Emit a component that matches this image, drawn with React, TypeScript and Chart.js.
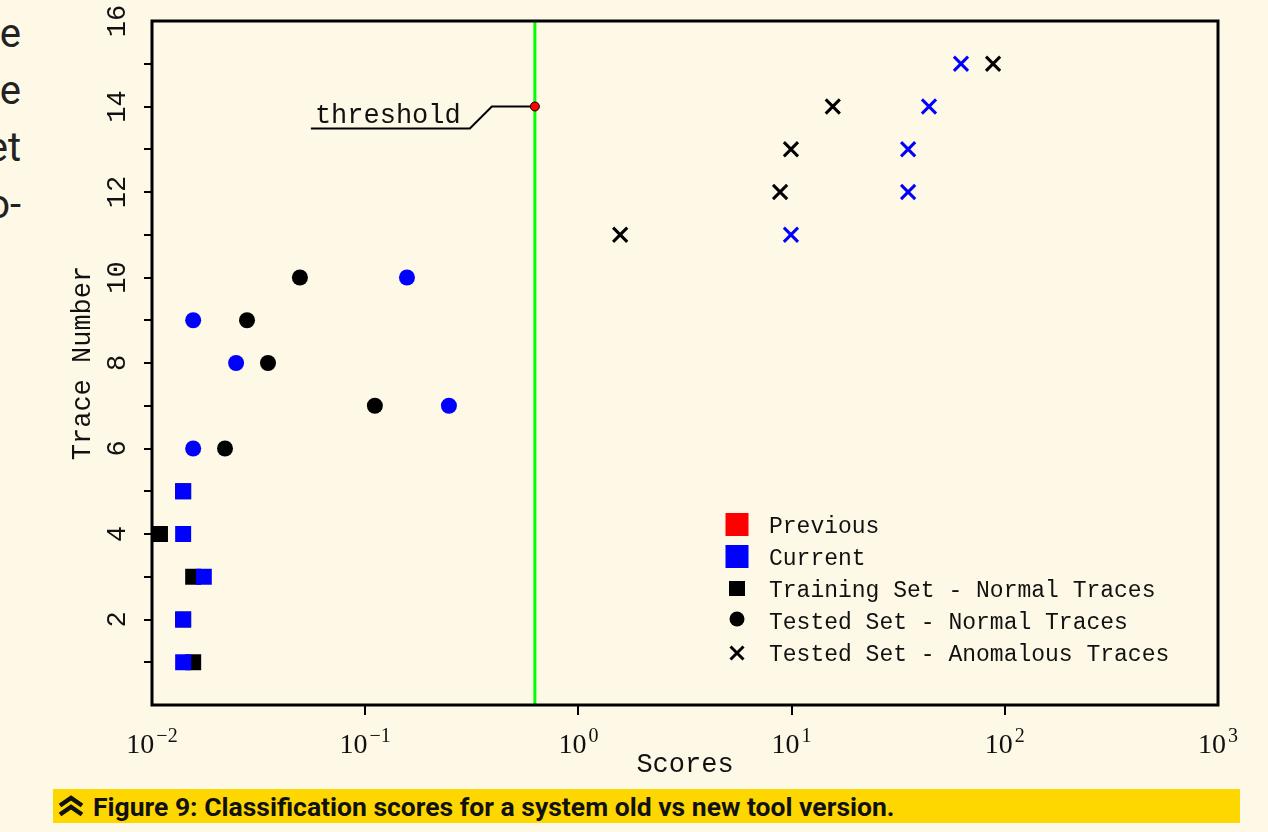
import React, { useEffect, useRef } from "react";
import { Chart, registerables } from "chart.js";

Chart.register(...registerables);

// ---------- data ----------
const trainPrevTrace = [1, 2, 3, 4, 5];
const trainPrevScore = [0.0156, 0.014, 0.0156, 0.0109, 0.014];
const trainCurTrace = [1, 2, 3, 4, 5];
const trainCurScore = [0.014, 0.014, 0.0175, 0.014, 0.014];

const testNormPrevTrace = [6, 7, 8, 9, 10];
const testNormPrevScore = [0.022, 0.111, 0.035, 0.0279, 0.0494];
const testNormCurTrace = [6, 7, 8, 9, 10];
const testNormCurScore = [0.0156, 0.247, 0.0248, 0.0156, 0.157];

const testAnomPrevTrace = [11, 12, 13, 14, 15];
const testAnomPrevScore = [1.57, 8.83, 9.93, 15.6, 88.1];
const testAnomCurTrace = [11, 12, 13, 14, 15];
const testAnomCurScore = [9.93, 35.2, 35.2, 44.1, 62.3];

const thresholdScore = 0.625;
const thresholdTrace = 14;
const thresholdLabel = "threshold";

const xTickValues = [0.01, 0.1, 1, 10, 100, 1000];
const yTickValues = [0, 1, 2, 3, 4, 5, 6, 7, 8, 9, 10, 11, 12, 13, 14, 15, 16];
const xTitle = "Scores";
const yTitle = "Trace Number";

const legendLabels = [
  "Previous",
  "Current",
  "Training Set - Normal Traces",
  "Tested Set - Normal Traces",
  "Tested Set - Anomalous Traces",
];

const caption = "Figure 9: Classification scores for a system old vs new tool version.";
const sideFragments = ["e", "e", "et", "o-"];

// ---------- helpers ----------
const toPts = (xs: number[], ys: number[]) => xs.map((x, i) => ({ x, y: ys[i] }));

const MONO = "'Liberation Mono', 'DejaVu Sans Mono', monospace";
const SERIF = "'Liberation Serif', 'DejaVu Serif', serif";
const BG = "#fef9e7";

const framePlugin = {
  id: "frame",
  afterDatasetsDraw(chart: any) {
    const { ctx, chartArea: a } = chart;
    ctx.save();
    ctx.strokeStyle = "#000";
    ctx.lineWidth = 3;
    ctx.strokeRect(a.left, a.top, a.right - a.left, a.bottom - a.top);
    ctx.restore();
  },
};

// power-of-ten tick labels with a real superscript exponent, placed from the x scale's ticks
const powerTickPlugin = {
  id: "powerTicks",
  afterDraw(chart: any) {
    const { ctx, scales } = chart;
    const sx = scales.x;
    const base = sx.top + 48;
    ctx.save();
    ctx.fillStyle = "#111";
    ctx.textAlign = "left";
    ctx.textBaseline = "alphabetic";
    sx.ticks.forEach((t: any) => {
      const px = sx.getPixelForValue(t.value);
      const exp = Math.round(Math.log10(t.value));
      const expStr = (exp < 0 ? "\u2212" : "") + String(Math.abs(exp));
      ctx.font = `28px ${SERIF}`;
      const w1 = ctx.measureText("10").width;
      ctx.font = `20px ${SERIF}`;
      const w2 = ctx.measureText(expStr).width;
      const gap = 2;
      const x0 = px - (w1 + gap + w2) / 2;
      ctx.font = `28px ${SERIF}`;
      ctx.fillText("10", x0, base);
      ctx.font = `20px ${SERIF}`;
      ctx.fillText(expStr, x0 + w1 + gap, base - 11);
    });
    ctx.restore();
  },
};

const annotationPlugin = {
  id: "thresholdNote",
  beforeDatasetsDraw(chart: any) {
    const { ctx, scales } = chart;
    const px = scales.x.getPixelForValue(thresholdScore);
    const py = scales.y.getPixelForValue(thresholdTrace);
    ctx.save();
    ctx.strokeStyle = "#000";
    ctx.lineWidth = 2;
    ctx.beginPath();
    ctx.moveTo(px, py);
    ctx.lineTo(px - 43, py);
    ctx.lineTo(px - 65, py + 22);
    ctx.lineTo(px - 224, py + 22);
    ctx.stroke();
    ctx.fillStyle = "#111";
    ctx.font = `27px ${MONO}`;
    ctx.textAlign = "left";
    ctx.textBaseline = "alphabetic";
    ctx.fillText(thresholdLabel, px - 220, py + 16);
    ctx.restore();
  },
};

const legendPlugin = {
  id: "customLegend",
  afterDraw(chart: any) {
    const { ctx } = chart;
    const mx = 737;
    const tx = 769;
    const y0 = 527;
    const dy = 32;
    ctx.save();
    legendLabels.forEach((label, i) => {
      const y = y0 + i * dy;
      if (i === 0 || i === 1) {
        ctx.fillStyle = i === 0 ? "#ff0000" : "#0000ff";
        ctx.fillRect(mx - 11.5, y - 14, 23, 23);
      } else if (i === 2) {
        ctx.fillStyle = "#000";
        ctx.fillRect(mx - 8, y - 10, 16, 15);
      } else if (i === 3) {
        ctx.fillStyle = "#000";
        ctx.beginPath();
        ctx.arc(mx, y - 4, 7.5, 0, Math.PI * 2);
        ctx.fill();
      } else {
        ctx.strokeStyle = "#000";
        ctx.lineWidth = 3;
        ctx.beginPath();
        ctx.moveTo(mx - 6.5, y - 8.5);
        ctx.lineTo(mx + 6.5, y + 4.5);
        ctx.moveTo(mx + 6.5, y - 8.5);
        ctx.lineTo(mx - 6.5, y + 4.5);
        ctx.stroke();
      }
      ctx.fillStyle = "#111";
      ctx.font = `23px ${MONO}`;
      ctx.textAlign = "left";
      ctx.textBaseline = "middle";
      ctx.fillText(label, tx, y);
    });
    ctx.restore();
  },
};

function ChartView() {
  const ref = useRef<HTMLCanvasElement | null>(null);
  useEffect(() => {
    if (!ref.current) return;
    const blue = "#0000ff";
    const black = "#000000";
    const chart = new Chart(ref.current, {
      type: "scatter",
      data: {
        datasets: [
          {
            label: "threshold point",
            data: [{ x: thresholdScore, y: thresholdTrace }],
            pointStyle: "circle",
            pointRadius: 4.5,
            backgroundColor: "#ff0000",
            borderColor: "#000",
            borderWidth: 1,
            order: 0,
          } as any,
          {
            label: "threshold",
            type: "line",
            data: [
              { x: thresholdScore, y: 0 },
              { x: thresholdScore, y: 16 },
            ],
            borderColor: "#00ff00",
            borderWidth: 3,
            pointRadius: 0,
            showLine: true,
            order: 10,
          } as any,
          {
            label: "anom cur",
            data: toPts(testAnomCurScore, testAnomCurTrace),
            pointStyle: "crossRot",
            pointRadius: 10,
            borderWidth: 3,
            borderColor: blue,
            backgroundColor: blue,
            order: 1,
          },
          {
            label: "norm cur",
            data: toPts(testNormCurScore, testNormCurTrace),
            pointStyle: "circle",
            pointRadius: 8,
            borderWidth: 0,
            backgroundColor: blue,
            order: 2,
          },
          {
            label: "train cur",
            data: toPts(trainCurScore, trainCurTrace),
            pointStyle: "rect",
            pointRadius: 11.3,
            borderWidth: 0,
            backgroundColor: blue,
            order: 3,
          },
          {
            label: "anom prev",
            data: toPts(testAnomPrevScore, testAnomPrevTrace),
            pointStyle: "crossRot",
            pointRadius: 10,
            borderWidth: 3,
            borderColor: black,
            backgroundColor: black,
            order: 4,
          },
          {
            label: "norm prev",
            data: toPts(testNormPrevScore, testNormPrevTrace),
            pointStyle: "circle",
            pointRadius: 8,
            borderWidth: 0,
            backgroundColor: black,
            order: 5,
          },
          {
            label: "train prev",
            data: toPts(trainPrevScore, trainPrevTrace),
            pointStyle: "rect",
            pointRadius: 11.3,
            borderWidth: 0,
            backgroundColor: black,
            order: 6,
          },
        ],
      },
      options: {
        responsive: false,
        animation: false,
        devicePixelRatio: 1,
        events: [],
        layout: { padding: { top: 21, right: 50, left: 0, bottom: 0 } },
        plugins: { legend: { display: false }, tooltip: { enabled: false } },
        scales: {
          x: {
            type: "logarithmic",
            min: 0.01,
            max: 1000,
            afterBuildTicks: (s: any) => {
              s.ticks = xTickValues.map((v) => ({ value: v, major: true }));
            },
            afterFit: (s: any) => {
              s.height = 75;
              s.paddingLeft = 0;
              s.paddingRight = 0;
            },
            border: { display: false },
            grid: {
              drawOnChartArea: false,
              drawTicks: true,
              tickLength: 10,
              lineWidth: 2,
              color: (c: any) =>
                c.tick && (c.tick.value === 0.01 || c.tick.value === 1000) ? "rgba(0,0,0,0)" : "#000",
            },
            ticks: {
              display: false,
              autoSkip: false,
              maxRotation: 0,
              minRotation: 0,
            },
            title: {
              display: true,
              text: xTitle,
              color: "#111",
              font: { family: MONO, size: 27, lineHeight: 1 },
              padding: { top: 0, bottom: 1.5 },
            },
          },
          y: {
            type: "linear",
            min: 0,
            max: 16,
            afterBuildTicks: (s: any) => {
              s.ticks = yTickValues.map((v) => ({ value: v }));
            },
            afterFit: (s: any) => {
              s.width = 152;
              s.paddingTop = 0;
              s.paddingBottom = 0;
            },
            border: { display: false },
            grid: {
              drawOnChartArea: false,
              drawTicks: true,
              tickLength: 8,
              lineWidth: 2,
              color: (c: any) =>
                c.tick && (c.tick.value === 0 || c.tick.value === 16) ? "rgba(0,0,0,0)" : "#000",
            },
            ticks: {
              autoSkip: false,
              minRotation: 90,
              maxRotation: 90,
              crossAlign: "center",
              padding: 10,
              color: "#111",
              font: { family: MONO, size: 27 },
              callback: (v: any) => (Number(v) > 0 && Number(v) % 2 === 0 ? String(v) : ""),
            },
            title: {
              display: true,
              text: yTitle,
              color: "#111",
              font: { family: MONO, size: 27, lineHeight: 1 },
              padding: { top: 69.5, bottom: 0 },
            },
          },
        },
      } as any,
      plugins: [annotationPlugin, framePlugin, powerTickPlugin, legendPlugin],
    });
    return () => chart.destroy();
  }, []);
  return (
    <canvas
      ref={ref}
      width={1268}
      height={780}
      style={{ position: "absolute", left: 0, top: 0, width: 1268, height: 780, display: "block" }}
    />
  );
}

export default function App() {
  return (
    <div
      style={{
        position: "absolute",
        left: 0,
        top: 0,
        width: 1268,
        height: 832,
        background: BG,
        overflow: "hidden",
      }}
    >
      {sideFragments.map((t, i) => (
        <div
          key={i}
          style={{
            position: "absolute",
            left: -200,
            width: 221,
            top: 5 + i * 57,
            height: 57,
            lineHeight: "57px",
            fontFamily: "Roboto, sans-serif",
            fontSize: 40,
            color: "#222",
            textAlign: "right",
            whiteSpace: "nowrap",
          }}
        >
          {t}
        </div>
      ))}
      <ChartView />
      <div
        style={{
          position: "absolute",
          left: 53,
          top: 789,
          width: 1187,
          height: 34,
          background: "#ffd700",
          display: "flex",
          alignItems: "center",
          fontFamily: "Roboto, sans-serif",
          fontWeight: 700,
          fontSize: 26.5,
          color: "#111",
          whiteSpace: "nowrap",
          overflow: "hidden",
        }}
      >
        <svg width="40" height="34" viewBox="0 0 40 34" style={{ flex: "none" }}>
          <polyline points="7,16.5 18,9 29,16.5" fill="none" stroke="#111" strokeWidth="4.5" />
          <polyline points="7,25.5 18,18 29,25.5" fill="none" stroke="#111" strokeWidth="4.5" />
        </svg>
        <span>{caption}</span>
      </div>
    </div>
  );
}
